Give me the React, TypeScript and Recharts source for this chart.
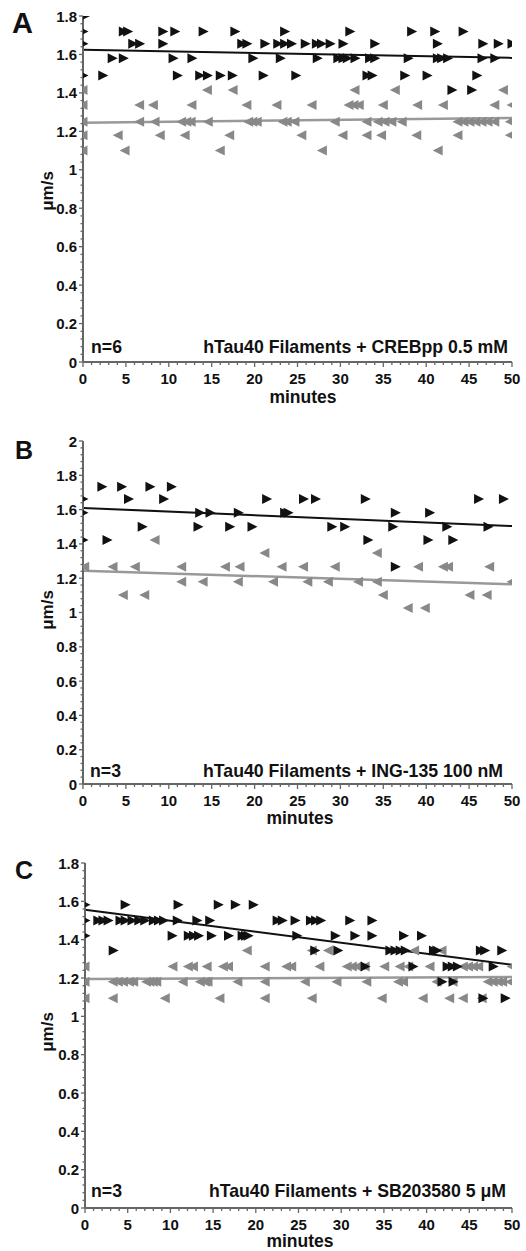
import React from 'react';
import { ScatterChart, Scatter, XAxis, YAxis, ReferenceLine } from 'recharts';

// ---------- tick labels ----------
const xMajorTicks = [0, 5, 10, 15, 20, 25, 30, 35, 40, 45, 50];
const xMinorTicks = Array.from({ length: 51 }, (_, i) => i);
const yMajorTicks18 = [0, 0.2, 0.4, 0.6, 0.8, 1, 1.2, 1.4, 1.6, 1.8];
const yMajorTicks20 = [0, 0.2, 0.4, 0.6, 0.8, 1, 1.2, 1.4, 1.6, 1.8, 2];
const yMinorTicks18 = Array.from({ length: 46 }, (_, i) => +(i * 0.04).toFixed(2));
const yMinorTicks20 = Array.from({ length: 51 }, (_, i) => +(i * 0.04).toFixed(2));

// ---------- Panel A (CREBpp) ----------
const aBlack: [number, number][] = [
  [0.2, 1.8],
  [0, 1.72], [4.7, 1.72], [5.2, 1.72], [9.3, 1.72], [10.7, 1.72], [14, 1.72], [17.7, 1.72], [23.5, 1.72], [31.1, 1.72], [38.3, 1.72], [41, 1.72], [44.3, 1.72],
  [0, 1.655], [5.8, 1.655], [6.6, 1.655], [9.3, 1.655], [18.5, 1.655], [19.1, 1.655], [21.2, 1.655], [22.7, 1.655], [23.5, 1.655], [24.3, 1.655], [25.9, 1.655], [27.2, 1.655], [27.8, 1.655], [28.8, 1.655], [30.3, 1.655], [34, 1.655], [41.3, 1.655], [46.6, 1.655], [48.4, 1.655], [50, 1.655],
  [3.4, 1.58], [4.7, 1.58], [10.5, 1.58], [12.7, 1.58], [19.8, 1.58], [23, 1.58], [27.3, 1.58], [29.7, 1.58], [30.3, 1.58], [30.8, 1.58], [31.7, 1.58], [33.4, 1.58], [34, 1.58], [37.9, 1.58], [41.3, 1.58], [41.8, 1.58], [42.5, 1.58], [46.5, 1.58], [48, 1.58],
  [0, 1.49], [2.3, 1.49], [11, 1.49], [13.6, 1.49], [14.5, 1.49], [16, 1.49], [17.4, 1.49], [21, 1.49], [24.8, 1.49], [33.1, 1.49], [33.7, 1.49], [37.5, 1.49], [40.1, 1.49], [45.9, 1.49],
  [43, 1.415], [45.3, 1.415],
];
const aGray: [number, number][] = [
  [0, 1.415], [14.5, 1.415], [17.5, 1.415], [31.7, 1.415], [36.4, 1.415], [49, 1.415],
  [0, 1.337], [6.6, 1.337], [8.2, 1.337], [12.7, 1.337], [19.1, 1.337], [22.6, 1.337], [26.7, 1.337], [31, 1.337], [31.6, 1.337], [32.2, 1.337], [35, 1.337], [39, 1.337], [42, 1.337], [48, 1.337], [50, 1.337],
  [0, 1.25], [6.6, 1.25], [8.4, 1.25], [11.5, 1.25], [12.1, 1.25], [12.6, 1.25], [14.6, 1.25], [19.3, 1.25], [19.8, 1.25], [20.3, 1.25], [23.3, 1.25], [23.8, 1.25], [24.7, 1.25], [29.4, 1.25], [33.1, 1.25], [34.4, 1.25], [35.2, 1.25], [36, 1.25], [37.2, 1.25], [43.7, 1.25], [44.4, 1.25], [45.1, 1.25], [45.8, 1.25], [46.5, 1.25], [47.2, 1.25], [48, 1.25], [49.8, 1.25],
  [0, 1.18], [4.1, 1.18], [9, 1.18], [11.9, 1.18], [17.1, 1.18], [25.5, 1.18], [30.3, 1.18], [33.1, 1.18], [34.8, 1.18], [38.9, 1.18], [43.7, 1.18], [49.8, 1.18],
  [0, 1.1], [4.9, 1.1], [16, 1.1], [27.9, 1.1], [41.4, 1.1],
];
const aBlackFit: [number, number][] = [[0, 1.625], [50, 1.582]];
const aGrayFit: [number, number][] = [[0, 1.245], [50, 1.27]];

// ---------- Panel B (ING-135) ----------
const bBlack: [number, number][] = [
  [2.2, 1.733], [4.5, 1.733], [7.8, 1.733], [10.3, 1.733],
  [0, 1.662], [5.3, 1.662], [9.4, 1.662], [21.4, 1.662], [25.7, 1.662], [27.1, 1.662], [32.9, 1.662], [46.1, 1.662], [49, 1.662],
  [0, 1.582], [13.6, 1.582], [14.8, 1.582], [18.1, 1.582], [23.5, 1.582], [23.9, 1.582], [36.4, 1.582], [40.4, 1.582],
  [6.9, 1.5], [13.4, 1.5], [17.1, 1.5], [19.7, 1.5], [29, 1.5], [30.5, 1.5], [36.1, 1.5], [42.4, 1.5], [47.2, 1.5],
  [0, 1.423], [2.8, 1.423], [33.2, 1.423], [40.2, 1.423], [43.1, 1.423],
  [36.4, 1.267],
];
const bGray: [number, number][] = [
  [8.4, 1.423],
  [21.2, 1.347], [34.3, 1.347],
  [0.2, 1.267], [3.5, 1.267], [6.1, 1.267], [11.5, 1.267], [16.6, 1.267], [18.3, 1.267], [23.2, 1.267], [25.7, 1.267], [29.4, 1.267], [39.1, 1.267], [42, 1.267], [42.6, 1.267], [47.4, 1.267],
  [11.5, 1.18], [14, 1.18], [18.1, 1.18], [22.2, 1.18], [26.2, 1.18], [28.6, 1.18], [32.1, 1.18], [34.3, 1.18], [50, 1.18],
  [4.7, 1.102], [7.2, 1.102], [35, 1.102], [45.1, 1.102], [47.1, 1.102],
  [37.9, 1.026], [39.9, 1.026],
];
const bBlackFit: [number, number][] = [[0, 1.61], [50, 1.504]];
const bGrayFit: [number, number][] = [[0, 1.244], [50, 1.164]];

// ---------- Panel C (SB203580) ----------
const cBlack: [number, number][] = [
  [0, 1.582], [4.7, 1.582], [10.9, 1.582], [15.6, 1.582], [17.6, 1.582], [19.7, 1.582],
  [0, 1.5], [1.5, 1.5], [2.1, 1.5], [2.7, 1.5], [4.1, 1.5], [4.7, 1.5], [5.5, 1.5], [6.3, 1.5], [7, 1.5], [8, 1.5], [8.6, 1.5], [9.2, 1.5], [10.8, 1.5], [13.1, 1.5], [14.6, 1.5], [22.5, 1.5], [23.1, 1.5], [24.6, 1.5], [26.4, 1.5], [27, 1.5], [27.6, 1.5], [31, 1.5], [33.6, 1.5],
  [0, 1.42], [10.2, 1.42], [12.1, 1.42], [12.7, 1.42], [13.3, 1.42], [14.8, 1.42], [16.8, 1.42], [18.4, 1.42], [18.8, 1.42], [19.1, 1.42], [24.8, 1.42], [29.3, 1.42], [31.6, 1.42], [33.6, 1.42], [37.3, 1.42], [39.4, 1.42],
  [3.3, 1.344], [26.9, 1.344], [29.6, 1.344], [35.7, 1.344], [36.3, 1.344], [36.9, 1.344], [37.5, 1.344], [40.8, 1.344], [41.2, 1.344], [46.3, 1.344], [46.8, 1.344], [48.8, 1.344],
  [32.8, 1.26], [38.4, 1.26], [42.4, 1.26], [43, 1.26], [43.6, 1.26], [47.8, 1.26],
  [41.8, 1.18], [43.1, 1.18],
  [46.6, 1.095], [49.2, 1.095],
];
const cGray: [number, number][] = [
  [19, 1.344], [26.6, 1.344], [28.5, 1.344], [38.6, 1.344], [41.8, 1.344],
  [0, 1.26], [10.3, 1.26], [12.1, 1.26], [12.7, 1.26], [14.3, 1.26], [16.2, 1.26], [16.8, 1.26], [21.1, 1.26], [23.6, 1.26], [24.2, 1.26], [27.5, 1.26], [30.7, 1.26], [31.3, 1.26], [31.9, 1.26], [32.8, 1.26], [35.1, 1.26], [36.9, 1.26], [37.9, 1.26], [40.4, 1.26], [44.3, 1.26], [44.9, 1.26], [45.5, 1.26], [46.1, 1.26], [50, 1.26],
  [0, 1.18], [3.3, 1.18], [3.9, 1.18], [4.5, 1.18], [5.2, 1.18], [5.7, 1.18], [7.2, 1.18], [7.6, 1.18], [8, 1.18], [8.4, 1.18], [11.5, 1.18], [13.5, 1.18], [14.1, 1.18], [14.4, 1.18], [17.9, 1.18], [21.1, 1.18], [25.8, 1.18], [29.5, 1.18], [33, 1.18], [36.7, 1.18], [37.3, 1.18], [41.2, 1.18], [43.1, 1.18], [47.2, 1.18], [47.8, 1.18], [48.4, 1.18], [48.9, 1.18], [49.8, 1.18],
  [0, 1.095], [3.3, 1.095], [9.4, 1.095], [15.8, 1.095], [21.1, 1.095], [26.6, 1.095], [34.8, 1.095], [39.6, 1.095], [42.7, 1.095], [44.3, 1.095], [46.5, 1.095],
];
const cBlackFit: [number, number][] = [[0, 1.556], [50, 1.269]];
const cGrayFit: [number, number][] = [[0, 1.195], [50, 1.205]];

// ---------- styling ----------
const FONT = '"Liberation Sans", Arial, Helvetica, sans-serif';
const AXIS = '#666';
const BLACK = '#111';
const GRAY = '#888';
const GRAY_LINE = '#999';

const toPts = (arr: [number, number][]) => arr.map(([x, y]) => ({ x, y }));

const RightTri = (p: any) => {
  const { cx, cy } = p;
  if (cx == null || cy == null) return <g />;
  return <polygon points={`${cx - 4.5},${cy - 5} ${cx + 5.5},${cy} ${cx - 4.5},${cy + 5}`} fill={BLACK} />;
};
const LeftTri = (p: any) => {
  const { cx, cy } = p;
  if (cx == null || cy == null) return <g />;
  return <polygon points={`${cx + 4.5},${cy - 5} ${cx - 5.5},${cy} ${cx + 4.5},${cy + 5}`} fill={GRAY} />;
};

const XTick = (props: any) => {
  const { x, y, payload } = props;
  const v = payload.value;
  const major = xMajorTicks.includes(v);
  return (
    <g>
      <line x1={x} x2={x} y1={y} y2={y + (major ? 5 : 3)} stroke={AXIS} strokeWidth={1.3} />
      {major && (
        <text x={x} y={y + 22} textAnchor="middle" fontSize={15} fontWeight="bold" fill="#111" fontFamily={FONT}>
          {v}
        </text>
      )}
    </g>
  );
};

const YTick = (props: any) => {
  const { x, y, payload } = props;
  const v = payload.value;
  const major = Math.abs(v * 5 - Math.round(v * 5)) < 1e-6;
  return (
    <g>
      <line x1={x - (major ? 4 : 2.5)} x2={x} y1={y} y2={y} stroke={AXIS} strokeWidth={1.3} />
      {major && (
        <text x={x - 6} y={y + 5.5} textAnchor="end" fontSize={15} fontWeight="bold" fill="#111" fontFamily={FONT}>
          {Number(v.toFixed(1)).toString()}
        </text>
      )}
    </g>
  );
};

type PanelProps = {
  top: number;
  height: number;
  marginTop: number;
  plotHeight: number;
  yAxisWidth: number;
  yMax: number;
  yTicks: number[];
  black: [number, number][];
  gray: [number, number][];
  blackFit: [number, number][];
  grayFit: [number, number][];
};

const Panel = ({ top, height, marginTop, plotHeight, yAxisWidth, yMax, yTicks, black, gray, blackFit, grayFit }: PanelProps) => (
  <div style={{ position: 'absolute', left: 0, top, width: 526, height }}>
    <ScatterChart width={526} height={height} margin={{ top: marginTop, right: 14, bottom: 0, left: 0 }}>
      <XAxis
        type="number"
        dataKey="x"
        domain={[0, 50]}
        ticks={xMinorTicks}
        interval={0}
        tickSize={0}
        tickMargin={0}
        tickLine={false}
        axisLine={{ stroke: AXIS, strokeWidth: 2 }}
        tick={<XTick />}
        height={height - marginTop - plotHeight}
        allowDataOverflow
      />
      <YAxis
        type="number"
        dataKey="y"
        domain={[0, yMax]}
        ticks={yTicks}
        interval={0}
        tickSize={0}
        tickMargin={0}
        tickLine={false}
        axisLine={{ stroke: AXIS, strokeWidth: 2 }}
        tick={<YTick />}
        width={yAxisWidth}
        allowDataOverflow
      />
      <Scatter data={toPts(gray)} shape={<LeftTri />} isAnimationActive={false} />
      <Scatter data={toPts(black)} shape={<RightTri />} isAnimationActive={false} />
      <ReferenceLine segment={toPts(grayFit)} stroke={GRAY_LINE} strokeWidth={2.5} ifOverflow="visible" />
      <ReferenceLine segment={toPts(blackFit)} stroke={BLACK} strokeWidth={2} ifOverflow="visible" />
    </ScatterChart>
  </div>
);

const txt = { fontFamily: FONT, fontWeight: 'bold' as const, fill: '#111' };

export default function App() {
  return (
    <div style={{ position: 'absolute', left: 0, top: 0, width: 526, height: 1251, background: '#fff', overflow: 'hidden' }}>
      <Panel top={0} height={410} marginTop={16} plotHeight={346} yAxisWidth={83} yMax={1.8} yTicks={yMinorTicks18}
        black={aBlack} gray={aGray} blackFit={aBlackFit} grayFit={aGrayFit} />
      <Panel top={420} height={410} marginTop={21} plotHeight={343} yAxisWidth={83} yMax={2} yTicks={yMinorTicks20}
        black={bBlack} gray={bGray} blackFit={bBlackFit} grayFit={bGrayFit} />
      <Panel top={840} height={411} marginTop={23} plotHeight={345} yAxisWidth={85} yMax={1.8} yTicks={yMinorTicks18}
        black={cBlack} gray={cGray} blackFit={cBlackFit} grayFit={cGrayFit} />
      <svg width={526} height={1251} style={{ position: 'absolute', left: 0, top: 0, pointerEvents: 'none' }}>
        <text x={12} y={33} fontSize={29} {...txt}>A</text>
        <text x={15} y={459} fontSize={25} {...txt}>B</text>
        <text x={15} y={879} fontSize={25} {...txt}>C</text>

        <text x={91} y={353} fontSize={17.7} {...txt}>n=6</text>
        <text x={508} y={353} fontSize={17.7} textAnchor="end" {...txt}>hTau40 Filaments + CREBpp 0.5 mM</text>
        <text x={90} y={777} fontSize={17.7} {...txt}>n=3</text>
        <text x={503} y={777} fontSize={17.7} textAnchor="end" {...txt}>hTau40 Filaments + ING-135 100 nM</text>
        <text x={91} y={1197} fontSize={17.7} {...txt}>n=3</text>
        <text x={506} y={1197} fontSize={17.7} textAnchor="end" {...txt}>hTau40 Filaments + SB203580 5 μM</text>

        <text x={303} y={403} fontSize={17.5} textAnchor="middle" {...txt}>minutes</text>
        <text x={300} y={824} fontSize={17.5} textAnchor="middle" {...txt}>minutes</text>
        <text x={300} y={1247} fontSize={17.5} textAnchor="middle" {...txt}>minutes</text>

        <text transform="translate(53,191) rotate(-90)" fontSize={17} textAnchor="middle" {...txt}>μm/s</text>
        <text transform="translate(53,610) rotate(-90)" fontSize={17} textAnchor="middle" {...txt}>μm/s</text>
        <text transform="translate(53,1032) rotate(-90)" fontSize={17} textAnchor="middle" {...txt}>μm/s</text>
      </svg>
    </div>
  );
}
